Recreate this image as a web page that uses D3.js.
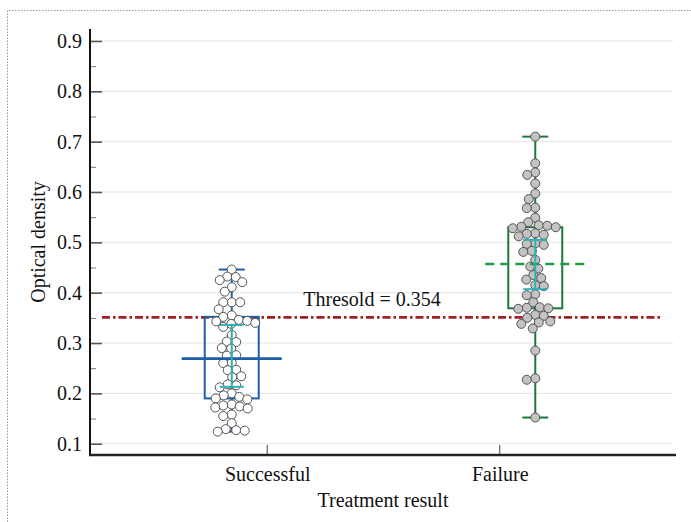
<!DOCTYPE html>
<html>
<head>
<meta charset="utf-8">
<script src="https://cdn.jsdelivr.net/npm/d3@7"></script>
<style>
  body { margin: 0; background: #fff; }
  text { font-family: "Liberation Serif", "Times New Roman", serif; fill: #111; }
</style>
</head>
<body>
<div id="vis"></div>
<script>
// Data
const CATEGORIES = ["Successful", "Failure"];
const SUCCESSFUL = [0.446, 0.432, 0.431, 0.425, 0.421, 0.411, 0.402, 0.381, 0.381, 0.381,
  0.367, 0.355, 0.352, 0.346, 0.344, 0.343, 0.340, 0.338, 0.332, 0.316, 0.303, 0.302,
  0.290, 0.289, 0.276, 0.275, 0.261, 0.260, 0.247, 0.246, 0.234, 0.232, 0.218, 0.216,
  0.212, 0.200, 0.196, 0.193, 0.190, 0.188, 0.178, 0.176, 0.174, 0.172, 0.170, 0.158,
  0.155, 0.141, 0.129, 0.127, 0.126, 0.124];
const FAILURE = [0.710, 0.657, 0.639, 0.634, 0.617, 0.597, 0.586, 0.569, 0.568, 0.549,
  0.540, 0.534, 0.533, 0.531, 0.530, 0.528, 0.518, 0.517, 0.515, 0.512, 0.498, 0.497,
  0.495, 0.483, 0.481, 0.465, 0.452, 0.448, 0.435, 0.429, 0.426, 0.415, 0.413, 0.397,
  0.395, 0.381, 0.371, 0.370, 0.369, 0.368, 0.356, 0.354, 0.350, 0.343, 0.341, 0.338,
  0.329, 0.285, 0.230, 0.227, 0.152];
// box stats per category: low whisker, q1, centre line, q3, high whisker
const WHISKER_LOW = [0.124, 0.152];
const Q1 = [0.190, 0.369];
const CENTRE = [0.269, 0.457];
const Q3 = [0.352, 0.530];
const WHISKER_HIGH = [0.446, 0.710];
// cyan error bars
const ERR_LOW = [0.213, 0.407];
const ERR_HIGH = [0.336, 0.505];
const THRESHOLD = 0.354;
const Y_TICKS = [0.1, 0.2, 0.3, 0.4, 0.5, 0.6, 0.7, 0.8, 0.9];
const Y_MINOR = [0.15, 0.25, 0.35, 0.45, 0.55, 0.65, 0.75, 0.85];

// Frame and plot area
const FRAME_WIDTH = 691;
const FRAME_HEIGHT = 522;
const PLOT = {left: 90, right: 676, top: 29, bottom: 455};
const BOX_SHIFT = [-35, 36];
const BOX_HALF = 27;
const CENTRE_HALF = 50;
const CAP_HALF = 13;
const ERR_CAP_HALF = 12;
const R = 4.5;
const MIN_GAP = 8.2;
const STROKES = ["#1d5fa6", "#197a3e"];
const FILLS = ["#ffffff", "#c3c3c3"];

const FRAME = d3.select("#vis")
  .append("svg")
    .attr("width", FRAME_WIDTH)
    .attr("height", FRAME_HEIGHT);

// dotted page border (top and left)
FRAME.append("path")
  .attr("d", "M7.5,522 L7.5,10.5 L691,10.5")
  .attr("fill", "none")
  .attr("stroke", "#999")
  .attr("stroke-dasharray", "1.5,1.5");

// Scales
const Y_SCALE = d3.scaleLinear()
  .domain([0.0776, 0.9238])
  .range([PLOT.bottom, PLOT.top]);

const X_SCALE = d3.scalePoint()
  .domain(CATEGORIES)
  .range([PLOT.left, PLOT.right])
  .padding(0.76);

// Gridlines
FRAME.append("g")
  .selectAll("line")
  .data(Y_TICKS)
  .enter()
  .append("line")
    .attr("x1", PLOT.left)
    .attr("x2", 673)
    .attr("y1", (d) => Y_SCALE(d))
    .attr("y2", (d) => Y_SCALE(d))
    .attr("stroke", "#e4e4e4")
    .attr("stroke-width", 1);

// Y axis with inward ticks
const yAxis = FRAME.append("g")
  .attr("transform", "translate(" + PLOT.left + ",0)")
  .call(d3.axisRight(Y_SCALE).tickValues(Y_TICKS).tickSize(12).tickFormat(""));
yAxis.select(".domain").remove();
yAxis.selectAll(".tick line").attr("stroke", "#555").attr("stroke-width", 1.6);

const yMinor = FRAME.append("g")
  .attr("transform", "translate(" + PLOT.left + ",0)")
  .call(d3.axisRight(Y_SCALE).tickValues(Y_MINOR).tickSize(6).tickFormat(""));
yMinor.select(".domain").remove();
yMinor.selectAll(".tick line").attr("stroke", "#777").attr("stroke-width", 1);

// Y tick labels
FRAME.append("g")
  .selectAll("text")
  .data(Y_TICKS)
  .enter()
  .append("text")
    .attr("x", 82)
    .attr("y", (d) => Y_SCALE(d))
    .attr("dy", "0.35em")
    .attr("text-anchor", "end")
    .style("font-size", "20px")
    .text((d) => d.toFixed(1));

// X axis ticks (pointing up)
const xAxis = FRAME.append("g")
  .attr("transform", "translate(0," + PLOT.bottom + ")")
  .call(d3.axisTop(X_SCALE).tickSize(10).tickFormat(""));
xAxis.select(".domain").remove();
xAxis.selectAll(".tick line").attr("stroke", "#444").attr("stroke-width", 1);

// Category labels
FRAME.append("g")
  .selectAll("text")
  .data(CATEGORIES)
  .enter()
  .append("text")
    .attr("x", (d) => X_SCALE(d) + 1)
    .attr("y", 481)
    .attr("text-anchor", "middle")
    .style("font-size", "20px")
    .text((d) => d);

// Axis lines
FRAME.append("line")
  .attr("x1", PLOT.left).attr("x2", PLOT.left)
  .attr("y1", PLOT.top).attr("y2", PLOT.bottom + 1)
  .attr("stroke", "#111").attr("stroke-width", 2);
FRAME.append("line")
  .attr("x1", PLOT.left - 1).attr("x2", PLOT.right)
  .attr("y1", PLOT.bottom).attr("y2", PLOT.bottom)
  .attr("stroke", "#222").attr("stroke-width", 2.5);

// Axis titles
FRAME.append("text")
  .attr("x", (PLOT.left + PLOT.right) / 2)
  .attr("y", 507)
  .attr("text-anchor", "middle")
  .style("font-size", "20px")
  .text("Treatment result");

FRAME.append("text")
  .attr("transform", "translate(45," + ((PLOT.top + PLOT.bottom) / 2) + ") rotate(-90)")
  .attr("text-anchor", "middle")
  .style("font-size", "20px")
  .text("Optical density");

// Threshold line and label (line sits ~1px below the labelled value in the reference)
FRAME.append("line")
  .attr("x1", 102).attr("x2", 661)
  .attr("y1", Y_SCALE(THRESHOLD) + 1.5).attr("y2", Y_SCALE(THRESHOLD) + 1.5)
  .attr("stroke", "#a41e25")
  .attr("stroke-width", 2.6)
  .attr("stroke-dasharray", "8,3,2.5,3");

FRAME.append("text")
  .attr("x", 372)
  .attr("y", Y_SCALE(THRESHOLD) - 10)
  .attr("text-anchor", "middle")
  .style("font-size", "20px")
  .text("Thresold = " + THRESHOLD);

// Centre x of each box
const cx = (i) => X_SCALE(CATEGORIES[i]) + BOX_SHIFT[i];

// Boxes and whiskers
CATEGORIES.forEach((c, i) => {
  const g = FRAME.append("g")
    .attr("stroke", STROKES[i])
    .attr("stroke-width", 2)
    .attr("fill", "none");
  g.append("line")
    .attr("x1", cx(i)).attr("x2", cx(i))
    .attr("y1", Y_SCALE(WHISKER_LOW[i])).attr("y2", Y_SCALE(WHISKER_HIGH[i]));
  [WHISKER_LOW[i], WHISKER_HIGH[i]].forEach((v) => {
    g.append("line")
      .attr("x1", cx(i) - CAP_HALF).attr("x2", cx(i) + CAP_HALF)
      .attr("y1", Y_SCALE(v)).attr("y2", Y_SCALE(v));
  });
  g.append("rect")
    .attr("x", cx(i) - BOX_HALF)
    .attr("y", Y_SCALE(Q3[i]))
    .attr("width", BOX_HALF * 2)
    .attr("height", Y_SCALE(Q1[i]) - Y_SCALE(Q3[i]));
});

// Beeswarm layout for the points
function swarm(values, centre) {
  const placed = [];
  const sorted = values.slice().sort((a, b) => b - a);
  sorted.forEach((v) => {
    const y = Y_SCALE(v);
    let best = centre;
    let found = false;
    for (let k = 0; k < 400 && !found; k++) {
      const offs = k === 0 ? [0] : [-k, k];
      for (const o of offs) {
        const x = centre + o * 0.5;
        const hit = placed.some((p) => (p.x - x) ** 2 + (p.y - y) ** 2 < MIN_GAP ** 2);
        if (!hit) { best = x; found = true; break; }
      }
    }
    placed.push({x: best, y: y, v: v});
  });
  return placed;
}

[SUCCESSFUL, FAILURE].forEach((vals, i) => {
  FRAME.append("g")
    .selectAll("circle")
    .data(swarm(vals, cx(i)))
    .enter()
    .append("circle")
      .attr("cx", (d) => d.x)
      .attr("cy", (d) => d.y)
      .attr("r", R)
      .attr("fill", FILLS[i])
      .attr("stroke", "#555")
      .attr("stroke-width", 1);
});

// Centre lines (solid for first, dashed for second)
CATEGORIES.forEach((c, i) => {
  FRAME.append("line")
    .attr("x1", cx(i) - CENTRE_HALF).attr("x2", cx(i) + CENTRE_HALF)
    .attr("y1", Y_SCALE(CENTRE[i])).attr("y2", Y_SCALE(CENTRE[i]))
    .attr("stroke", i === 0 ? "#1d5fa6" : "#24994a")
    .attr("stroke-width", 2.6)
    .attr("stroke-dasharray", i === 0 ? null : "9,6");
});

// Cyan error bars
CATEGORIES.forEach((c, i) => {
  const g = FRAME.append("g")
    .attr("stroke", "#2fb0b4")
    .attr("stroke-width", 2);
  g.append("line")
    .attr("x1", cx(i)).attr("x2", cx(i))
    .attr("y1", Y_SCALE(ERR_LOW[i])).attr("y2", Y_SCALE(ERR_HIGH[i]));
  [ERR_LOW[i], ERR_HIGH[i]].forEach((v) => {
    g.append("line")
      .attr("x1", cx(i) - ERR_CAP_HALF).attr("x2", cx(i) + ERR_CAP_HALF)
      .attr("y1", Y_SCALE(v)).attr("y2", Y_SCALE(v));
  });
});
</script>
</body>
</html>
